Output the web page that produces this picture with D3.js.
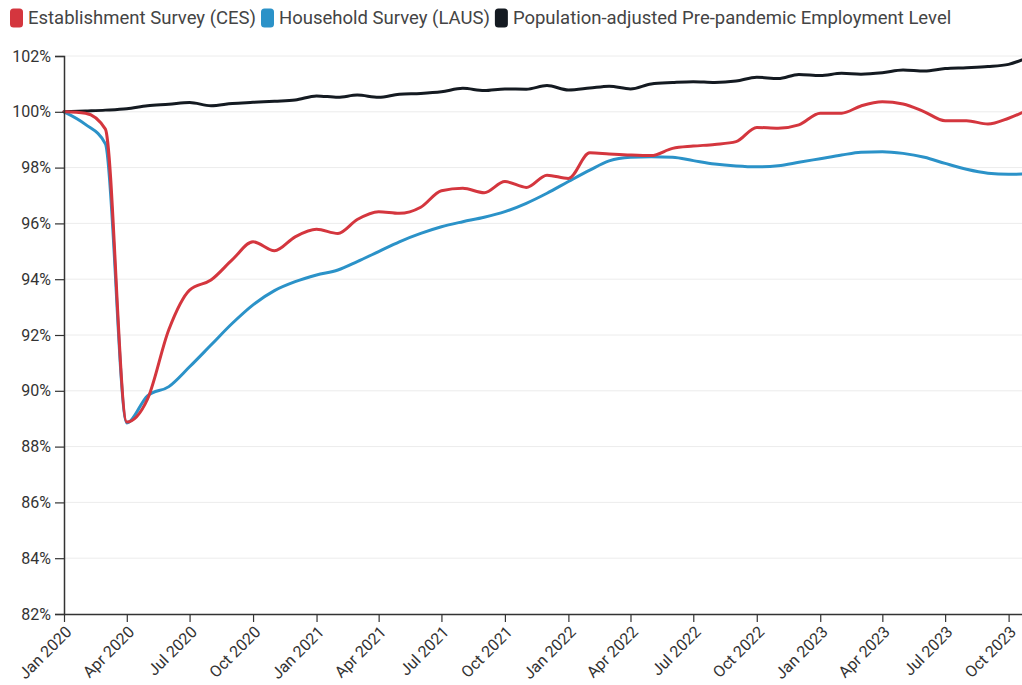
<!DOCTYPE html>
<html>
<head>
<meta charset="utf-8">
<script src="https://cdn.jsdelivr.net/npm/d3@7"></script>
<style>
  html, body { margin: 0; padding: 0; background: #fff; }
  svg { display: block; font-family: Roboto, "Noto Sans", sans-serif; }
</style>
</head>
<body>
<svg id="chart" width="1022" height="685"></svg>
<script>
// ---- data (monthly, Jan 2020 – Nov 2023), % of Jan 2020 level ----
const months = ["2020-01","2020-02","2020-03","2020-04","2020-05","2020-06","2020-07","2020-08","2020-09","2020-10","2020-11","2020-12",
  "2021-01","2021-02","2021-03","2021-04","2021-05","2021-06","2021-07","2021-08","2021-09","2021-10","2021-11","2021-12",
  "2022-01","2022-02","2022-03","2022-04","2022-05","2022-06","2022-07","2022-08","2022-09","2022-10","2022-11","2022-12",
  "2023-01","2023-02","2023-03","2023-04","2023-05","2023-06","2023-07","2023-08","2023-09","2023-10","2023-11"];

const ces = [100.00, 99.95, 99.38, 88.88, 89.70, 92.20, 93.61, 93.97, 94.70, 95.34, 95.02, 95.52,
  95.79, 95.64, 96.14, 96.42, 96.36, 96.58, 97.17, 97.26, 97.10, 97.50, 97.29, 97.73,
  97.61, 98.53, 98.49, 98.45, 98.43, 98.69, 98.77, 98.83, 98.93, 99.44, 99.41, 99.53,
  99.95, 99.95, 100.21, 100.36, 100.28, 100.00, 99.68, 99.68, 99.56, 99.77, 100.10];

const laus = [100.00, 99.55, 98.85, 88.85, 89.82, 90.15, 90.86, 91.64, 92.42, 93.08, 93.59, 93.91,
  94.15, 94.33, 94.63, 94.99, 95.34, 95.64, 95.88, 96.06, 96.22, 96.42, 96.72, 97.08,
  97.50, 97.91, 98.24, 98.37, 98.39, 98.37, 98.25, 98.13, 98.06, 98.03, 98.07, 98.19,
  98.32, 98.45, 98.55, 98.57, 98.51, 98.37, 98.15, 97.94, 97.80, 97.76, 97.78];

const popAdj = [100.00, 100.03, 100.06, 100.11, 100.22, 100.27, 100.33, 100.22, 100.30, 100.34, 100.38, 100.42,
  100.57, 100.52, 100.60, 100.52, 100.63, 100.66, 100.72, 100.84, 100.76, 100.82, 100.81, 100.94,
  100.78, 100.85, 100.92, 100.82, 101.00, 101.05, 101.08, 101.05, 101.10, 101.24, 101.19, 101.34,
  101.30, 101.38, 101.35, 101.40, 101.50, 101.46, 101.55, 101.58, 101.62, 101.70, 101.98];

const seriesNames = ["Establishment Survey (CES)", "Household Survey (LAUS)", "Population-adjusted Pre-pandemic Employment Level"];
const seriesColors = ["#d4363e", "#2b92c8", "#141a21"];
const yTicks = [82, 84, 86, 88, 90, 92, 94, 96, 98, 100, 102];

// ---- layout ----
const svg = d3.select("#chart");
const mLeft = 64, mTop = 56, mBottom = 614;
const parse = d3.utcParse("%Y-%m");
const dates = months.map(parse);

const x = d3.scaleUtc().domain([dates[0], dates[dates.length - 1]]).range([mLeft, 1030]);
const y = d3.scaleLinear().domain([82, 102]).range([mBottom, mTop]);

// grid
svg.append("g").selectAll("line").data(yTicks.filter(d => d !== 82)).join("line")
  .attr("x1", mLeft).attr("x2", 1022)
  .attr("y1", d => y(d)).attr("y2", d => y(d))
  .attr("stroke", "#ececec").attr("stroke-width", 1);

// lines
const lineGen = d3.line().x((d, i) => x(dates[i])).y(d => y(d)).curve(d3.curveMonotoneX);
const allSeries = [popAdj, laus, ces];
const allColors = [seriesColors[2], seriesColors[1], seriesColors[0]];
svg.append("g").selectAll("path").data(allSeries).join("path")
  .attr("d", d => lineGen(d))
  .attr("fill", "none")
  .attr("stroke", (d, i) => allColors[i])
  .attr("stroke-width", 3)
  .attr("stroke-linejoin", "round")
  .attr("stroke-linecap", "round");

// y axis
const yAxis = svg.append("g").attr("transform", `translate(${mLeft},0)`)
  .call(d3.axisLeft(y).tickValues(yTicks).tickFormat(d => d + "%").tickSize(9).tickPadding(4));
yAxis.select(".domain").attr("stroke", "#333").attr("stroke-width", 1.5);
yAxis.selectAll(".tick line").attr("stroke", "#333").attr("stroke-width", 1.2);
yAxis.selectAll("text").attr("fill", "#333").style("font-size", "16px").style("font-family", "Roboto, sans-serif");

// x axis
const xAxis = svg.append("g").attr("transform", `translate(0,${mBottom})`)
  .call(d3.axisBottom(x).ticks(d3.utcMonth.every(3)).tickFormat(d3.utcFormat("%b %Y")).tickSize(8).tickSizeOuter(0));
xAxis.select(".domain").attr("stroke", "#333").attr("stroke-width", 1.5);
xAxis.selectAll(".tick line").attr("stroke", "#333").attr("stroke-width", 1.2);
xAxis.selectAll("text")
  .attr("fill", "#333")
  .style("font-size", "16px").style("font-family", "Roboto, sans-serif")
  .attr("text-anchor", "end")
  .attr("x", 0).attr("y", 0).attr("dy", 0)
  .attr("transform", "translate(8,19) rotate(-45)");

// legend
const legend = svg.append("g").attr("transform", "translate(10,18)");
let lx = 0;
seriesNames.forEach((name, i) => {
  const g = legend.append("g").attr("transform", `translate(${lx},0)`);
  g.append("rect").attr("x", 0).attr("y", -9.5).attr("width", 13).attr("height", 19).attr("rx", 3.5)
    .attr("fill", seriesColors[i]);
  const t = g.append("text").attr("x", 18).attr("y", 0).attr("dy", "0.35em")
    .attr("fill", "#444").style("font-size", "18.5px").style("font-family", "Roboto, sans-serif")
    .text(name);
  lx += 18 + t.node().getComputedTextLength() + 5;
});
</script>
</body>
</html>
